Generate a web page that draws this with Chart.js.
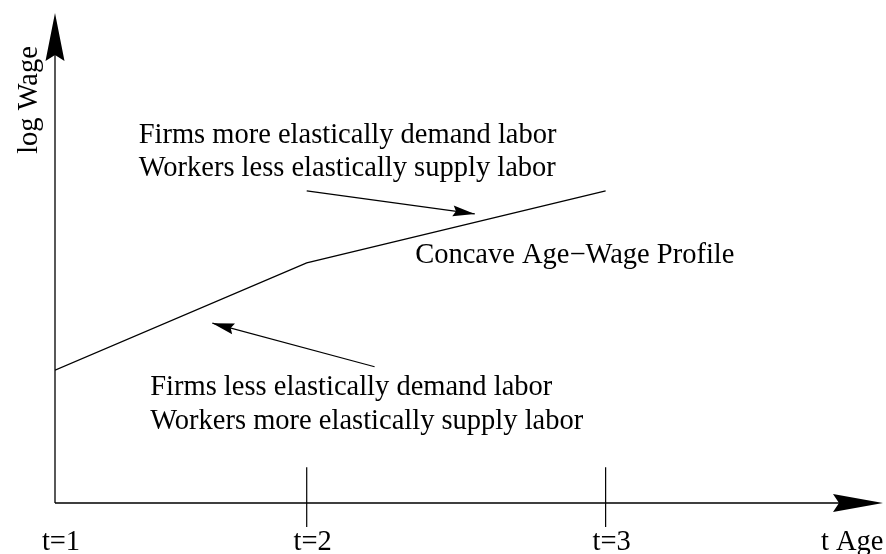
<!DOCTYPE html>
<html>
<head>
<meta charset="utf-8">
<script src="https://cdn.jsdelivr.net/npm/chart.js@4"></script>
<style>
  body { margin: 0; background: #fff; }
  #wrap { width: 886px; height: 554px; }
</style>
</head>
<body>
<div id="wrap"><canvas id="ageWageChart" width="886" height="554"></canvas></div>
<script>
// age axis (arbitrary units 0..100) and log wage (0..100)
const ageTicks = [0, 30.4, 66.5];
const ageTickLabels = ['t=1', 't=2', 't=3'];
const axisTitleX = 't Age';
const axisTitleY = 'log Wage';

const profileAge = [0, 30.4, 66.5];
const profileLogWage = [27.1, 49.0, 63.7];

// annotation arrows: [tail, head]
const upperArrowAge = [30.4, 50.7];
const upperArrowWage = [63.7, 59.0];
const lowerArrowAge = [38.6, 19.0];
const lowerArrowWage = [27.8, 36.7];

// little tick strokes across the age axis
const tickMarkAge = [30.4, 66.5];
const tickMarkWage = [-4.9, 7.3];

const notes = [
  { text: 'Firms more elastically demand labor', x: 10.1, y: 73.5 },
  { text: 'Workers less elastically supply labor', x: 10.1, y: 66.7 },
  { text: 'Concave Age\u2212Wage Profile', x: 43.5, y: 49.0 },
  { text: 'Firms less elastically demand labor', x: 11.5, y: 22.0 },
  { text: 'Workers more elastically supply labor', x: 11.5, y: 15.2 }
];

const FONT = '28.5px "Liberation Serif"';

function pts(xs, ys) {
  return xs.map((x, i) => ({ x: x, y: ys[i] }));
}

function lineSet(data, extra) {
  return Object.assign({
    data: data,
    borderColor: '#000',
    borderWidth: 1.3,
    pointRadius: 0,
    showLine: true,
    fill: false,
    tension: 0
  }, extra || {});
}

function arrowHead(ctx, x0, y0, x1, y1, len, half, notch) {
  const a = Math.atan2(y1 - y0, x1 - x0);
  ctx.save();
  ctx.translate(x1, y1);
  ctx.rotate(a);
  ctx.beginPath();
  ctx.moveTo(0, 0);
  ctx.lineTo(-len, -half);
  ctx.lineTo(-len + notch, 0);
  ctx.lineTo(-len, half);
  ctx.closePath();
  ctx.fillStyle = '#000';
  ctx.fill();
  ctx.restore();
}

const decor = {
  id: 'decor',
  afterDatasetsDraw(chart) {
    const ctx = chart.ctx;
    const xs = chart.scales.x, ys = chart.scales.y;
    const area = chart.chartArea;
    ctx.save();

    // axes with arrowheads
    ctx.strokeStyle = '#000';
    ctx.lineWidth = 1.3;
    ctx.beginPath();
    ctx.moveTo(area.left, area.bottom);
    ctx.lineTo(area.left, area.top + 20);
    ctx.moveTo(area.left, area.bottom);
    ctx.lineTo(area.right - 20, area.bottom);
    ctx.stroke();
    arrowHead(ctx, area.left, area.bottom, area.left, area.top, 48, 9.5, 6);
    arrowHead(ctx, area.left, area.bottom, area.right, area.bottom, 50, 9, 6);

    // heads of the annotation arrows
    [[upperArrowAge, upperArrowWage], [lowerArrowAge, lowerArrowWage]].forEach(function (a) {
      arrowHead(ctx,
        xs.getPixelForValue(a[0][0]), ys.getPixelForValue(a[1][0]),
        xs.getPixelForValue(a[0][1]), ys.getPixelForValue(a[1][1]),
        22, 5.5, 3);
    });

    ctx.fillStyle = '#000';
    ctx.font = FONT;
    ctx.textBaseline = 'alphabetic';

    // tick labels
    ctx.textAlign = 'center';
    ageTicks.forEach(function (t, i) {
      ctx.fillText(ageTickLabels[i], xs.getPixelForValue(t) + 6, area.bottom + 47);
    });
    ctx.textAlign = 'left';
    ctx.fillText(axisTitleX, xs.getPixelForValue(92.5), area.bottom + 47);

    // y title, rotated
    ctx.save();
    ctx.translate(37, 100);
    ctx.rotate(-Math.PI / 2);
    ctx.textAlign = 'center';
    ctx.fillText(axisTitleY, 0, 0);
    ctx.restore();

    // notes
    notes.forEach(function (n) {
      ctx.fillText(n.text, xs.getPixelForValue(n.x), ys.getPixelForValue(n.y));
    });

    ctx.restore();
  }
};

const ctx = document.getElementById('ageWageChart').getContext('2d');

new Chart(ctx, {
  type: 'scatter',
  data: {
    datasets: [
      lineSet(pts(profileAge, profileLogWage)),
      lineSet(pts(upperArrowAge, upperArrowWage), { borderWidth: 1.2 }),
      lineSet(pts(lowerArrowAge, lowerArrowWage), { borderWidth: 1.2 }),
      lineSet(pts([tickMarkAge[0], tickMarkAge[0]], tickMarkWage), { clip: false, borderWidth: 1.2 }),
      lineSet(pts([tickMarkAge[1], tickMarkAge[1]], tickMarkWage), { clip: false, borderWidth: 1.2 })
    ]
  },
  options: {
    responsive: false,
    animation: false,
    events: [],
    layout: {
      padding: { left: 55, right: 3, top: 13, bottom: 51 }
    },
    plugins: {
      legend: { display: false },
      tooltip: { enabled: false }
    },
    scales: {
      x: { type: 'linear', min: 0, max: 100, display: false },
      y: { type: 'linear', min: 0, max: 100, display: false }
    }
  },
  plugins: [decor]
});
</script>
</body>
</html>
